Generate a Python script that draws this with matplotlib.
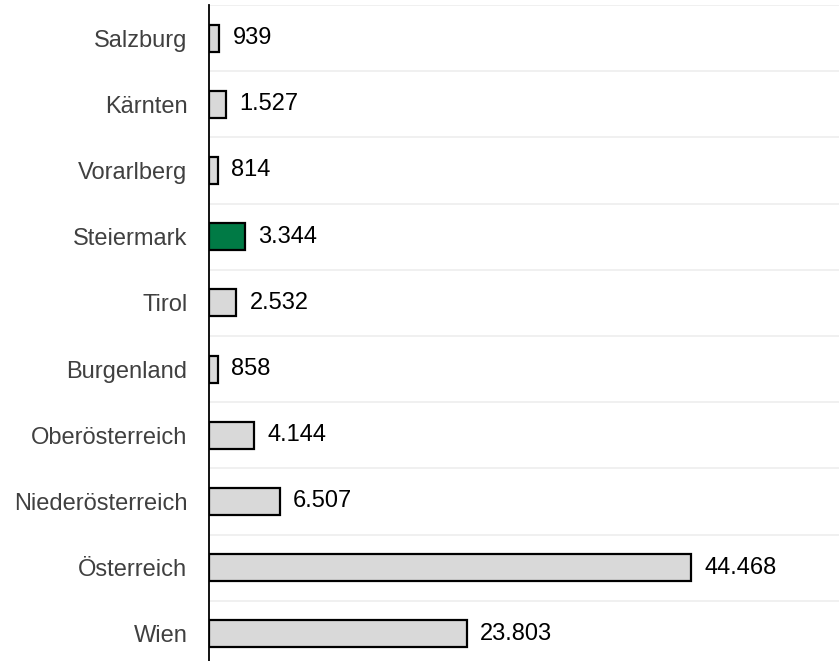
import numpy as np
import matplotlib.pyplot as plt
from matplotlib import rc

rc('font', **{'family': ['Liberation Sans', 'DejaVu Sans'], 'size': 17})

# data, top to bottom
regions = ['Salzburg', 'Kärnten', 'Vorarlberg', 'Steiermark', 'Tirol',
           'Burgenland', 'Oberösterreich', 'Niederösterreich', 'Österreich', 'Wien']
values = [939, 1527, 814, 3344, 2532, 858, 4144, 6507, 44468, 23803]
highlight = 'Steiermark'

grey = '#d9d9d9'
green = '#007a45'

W, H = 839, 661
fig = plt.figure(figsize=(W / 100, H / 100), dpi=100)
ax = fig.add_axes([209 / W, (H - 667) / H, 1 - 209 / W, 662 / H])

y = np.arange(len(regions))
colors = [green if r == highlight else grey for r in regions]
ax.barh(y, values, height=0.41, color=colors, edgecolor='black', linewidth=1.6, zorder=3)

for yi, v in zip(y, values):
    lab = '{:,}'.format(v).replace(',', '.')
    ax.annotate(lab, (v, yi), xytext=(9.5, 0), textcoords='offset points',
                va='center', ha='left', color='black', fontsize=17)

ax.set_ylim(len(regions) - 0.5, -0.5)
ax.set_xlim(0, 58100)
ax.set_yticks(y)
ax.set_yticklabels(regions, color='#404040')
ax.tick_params(axis='y', length=0, pad=15.5)
ax.set_xticks([])
ax.set_yticks(np.arange(-0.5, len(regions), 1), minor=True)
ax.tick_params(axis='y', which='minor', length=0)
ax.grid(axis='y', which='minor', color='#ededed', linewidth=1.2, zorder=0)
ax.grid(axis='y', which='major', visible=False)

for s in ['top', 'right', 'bottom']:
    ax.spines[s].set_visible(False)
ax.spines['left'].set_linewidth(1.3)
ax.spines['left'].set_color('black')

fig.savefig('out.png', dpi=100)
